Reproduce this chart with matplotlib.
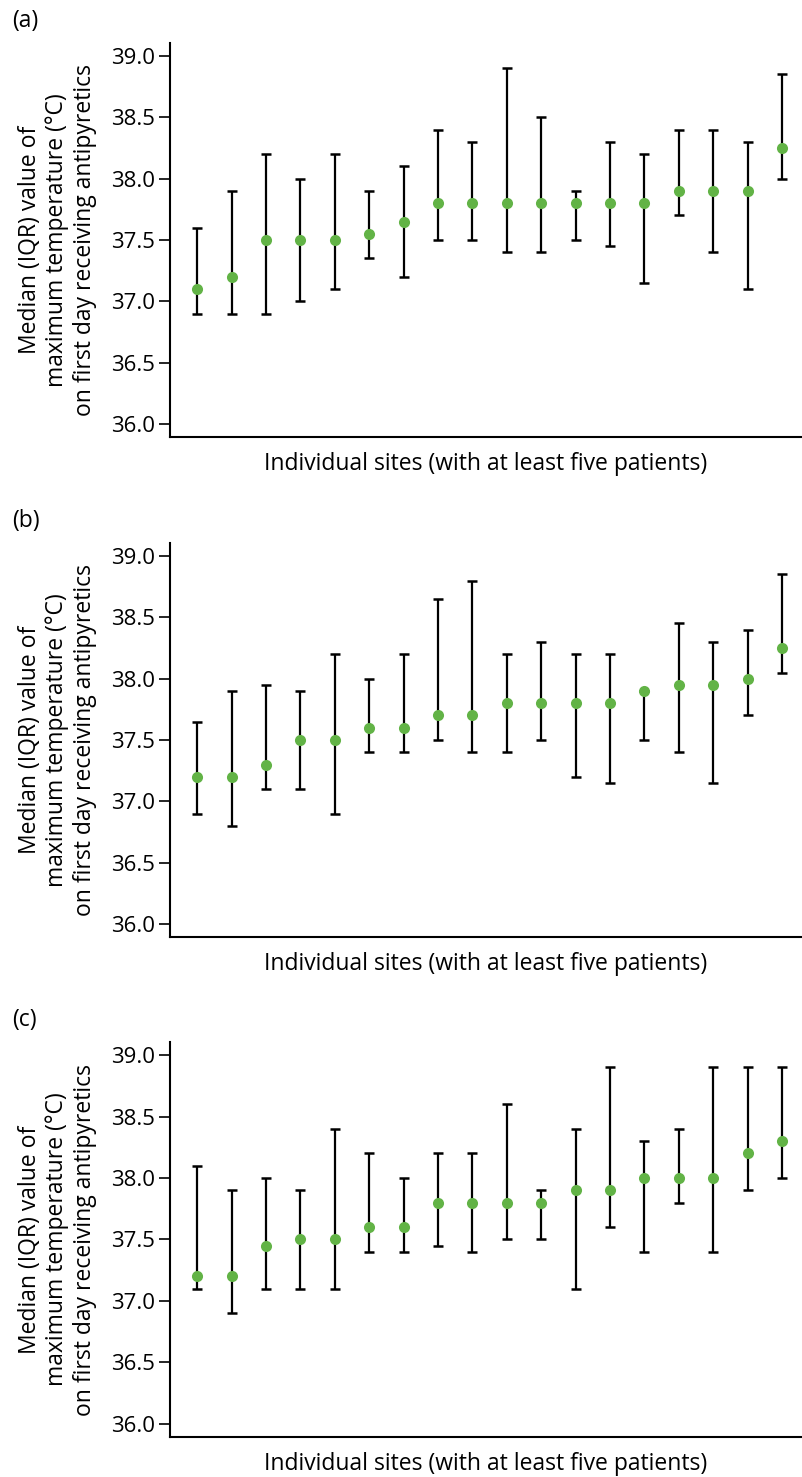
import matplotlib
matplotlib.use("Agg")
import matplotlib.pyplot as plt
import numpy as np

plt.rcParams['font.family'] = ['Open Sans', 'DejaVu Sans']

# median and IQR (lower, upper) per site
med_a = [37.1, 37.2, 37.5, 37.5, 37.5, 37.55, 37.65, 37.8, 37.8, 37.8, 37.8, 37.8, 37.8, 37.8, 37.9, 37.9, 37.9, 38.25]
lo_a = [36.9, 36.9, 36.9, 37.0, 37.1, 37.35, 37.2, 37.5, 37.5, 37.4, 37.4, 37.5, 37.45, 37.15, 37.7, 37.4, 37.1, 38.0]
hi_a = [37.6, 37.9, 38.2, 38.0, 38.2, 37.9, 38.1, 38.4, 38.3, 38.9, 38.5, 37.9, 38.3, 38.2, 38.4, 38.4, 38.3, 38.85]

med_b = [37.2, 37.2, 37.3, 37.5, 37.5, 37.6, 37.6, 37.7, 37.7, 37.8, 37.8, 37.8, 37.8, 37.9, 37.95, 37.95, 38.0, 38.25]
lo_b = [36.9, 36.8, 37.1, 37.1, 36.9, 37.4, 37.4, 37.5, 37.4, 37.4, 37.5, 37.2, 37.15, 37.5, 37.4, 37.15, 37.7, 38.05]
hi_b = [37.65, 37.9, 37.95, 37.9, 38.2, 38.0, 38.2, 38.65, 38.8, 38.2, 38.3, 38.2, 38.2, 37.9, 38.45, 38.3, 38.4, 38.85]

med_c = [37.2, 37.2, 37.45, 37.5, 37.5, 37.6, 37.6, 37.8, 37.8, 37.8, 37.8, 37.9, 37.9, 38.0, 38.0, 38.0, 38.2, 38.3]
lo_c = [37.1, 36.9, 37.1, 37.1, 37.1, 37.4, 37.4, 37.45, 37.4, 37.5, 37.5, 37.1, 37.6, 37.4, 37.8, 37.4, 37.9, 38.0]
hi_c = [38.1, 37.9, 38.0, 37.9, 38.4, 38.2, 38.0, 38.2, 38.2, 38.6, 37.9, 38.4, 38.9, 38.3, 38.4, 38.9, 38.9, 38.9]

panels = ["(a)", "(b)", "(c)"]
yticks = [36.0, 36.5, 37.0, 37.5, 38.0, 38.5, 39.0]
xlabel = "Individual sites (with at least five patients)"
ylabel = "Median (IQR) value of\nmaximum temperature (°C)\non first day receiving antipyretics"

GREEN = "#62b346"
W, H = 802, 1477

fig = plt.figure(figsize=(W / 100, H / 100), dpi=100)

# axes boxes in pixels: top, bottom
boxes = [(43, 437), (543, 937), (1042, 1437)]
data = [(med_a, lo_a, hi_a), (med_b, lo_b, hi_b), (med_c, lo_c, hi_c)]

for (top, bot), (med, lo, hi), tag in zip(boxes, data, panels):
    ax = fig.add_axes([170 / W, (H - bot) / H, (801 - 170) / W, (bot - top) / H])
    med = np.array(med)
    lo = np.array(lo)
    hi = np.array(hi)
    x = np.arange(len(med))
    ax.errorbar(x, med, yerr=[med - lo, hi - med], fmt='none', ecolor='black',
                elinewidth=1.6, capsize=3.8, capthick=1.8, zorder=2)
    ax.plot(x, med, 'o', color=GREEN, markersize=8, markeredgewidth=0, zorder=3)

    ax.set_xlim(-0.79, 17.55)
    ax.set_ylim(35.894, 39.106)
    ax.set_yticks(yticks)
    ax.set_yticklabels(["%.1f" % t for t in yticks], fontsize=16)
    ax.set_xticks([])
    ax.tick_params(axis='y', length=8, width=1.2, pad=3)
    for s in ["top", "right"]:
        ax.spines[s].set_visible(False)
    for s in ["left", "bottom"]:
        ax.spines[s].set_linewidth(1.5)
    ax.set_xlabel(xlabel, fontsize=16.5, labelpad=11)
    ax.set_ylabel(ylabel, fontsize=16.5, labelpad=10, linespacing=1.2)
    fig.text(12 / W, 1 - (top - 22) / H, tag, fontsize=16.5, va='center', ha='left')

plt.savefig("out.png", dpi=100)
